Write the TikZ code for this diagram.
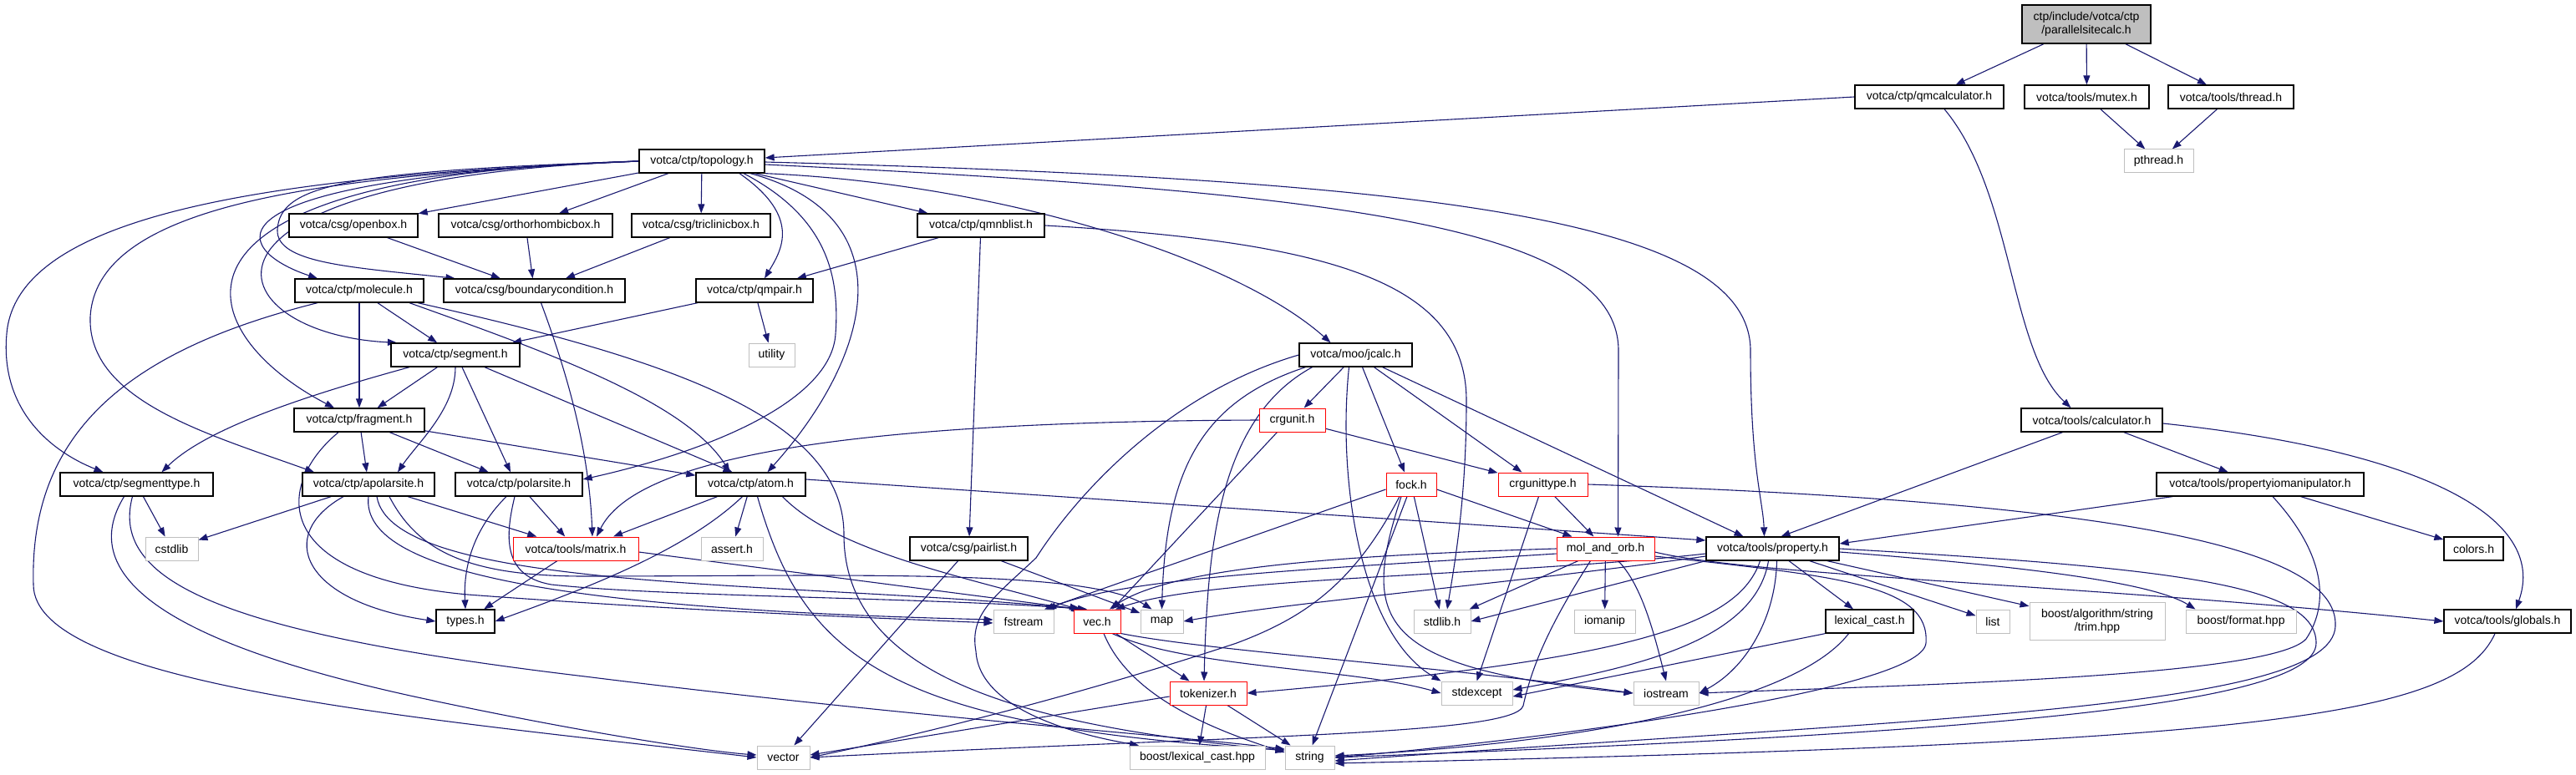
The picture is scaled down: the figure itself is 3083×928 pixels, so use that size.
\documentclass[tikz,border=0pt]{standalone}
\usepackage{fontspec}
\setmainfont{Liberation Sans}
\usetikzlibrary{arrows.meta}
\definecolor{Edge}{HTML}{191970}
\definecolor{Miss}{HTML}{FF0000}
\definecolor{Sys}{HTML}{BFBFBF}
\pgfdeclarelayer{bg}
\pgfsetlayers{bg,main}
\tikzset{
  hdr/.style={draw=black,line width=1.3pt,fill=white,minimum height=28pt,inner sep=0pt,font={\fontsize{14}{16}\selectfont}},
  sys/.style={hdr,draw=Sys,line width=1pt},
  miss/.style={hdr,draw=Miss,line width=1pt},
  root/.style={hdr,fill=Sys,minimum height=46pt,align=center},
  dep/.style={Edge,line width=1.1pt,-{Triangle[length=11pt,width=8pt]}},
}
\begin{document}
\begin{tikzpicture}[x=1pt,y=-1pt]
        \useasboundingbox (0,0) rectangle (3083,928);
        \node[root,minimum width=154pt] (psc) at (2497,29) {ctp/include/votca/ctp\\/parallelsitecalc.h};
        \node[hdr,minimum width=178pt] (qmcalc) at (2309,116) {votca/ctp/qmcalculator.h};
        \node[hdr,minimum width=149pt] (mutex) at (2497.5,116) {votca/tools/mutex.h};
        \node[hdr,minimum width=150pt] (thread) at (2670,116) {votca/tools/thread.h};
        \node[hdr,minimum width=150pt] (topo) at (840,193) {votca/ctp/topology.h};
        \node[sys,minimum width=83pt] (pthread) at (2583.5,193) {pthread.h};
        \node[hdr,minimum width=154pt] (openbox) at (423,270) {votca/csg/openbox.h};
        \node[hdr,minimum width=208pt] (ortho) at (629,270) {votca/csg/orthorhombicbox.h};
        \node[hdr,minimum width=166pt] (tricl) at (839,270) {votca/csg/triclinicbox.h};
        \node[hdr,minimum width=152pt] (qmnb) at (1174,270) {votca/ctp/qmnblist.h};
        \node[hdr,minimum width=154pt] (molec) at (430,348) {votca/ctp/molecule.h};
        \node[hdr,minimum width=217pt] (bcond) at (639.5,348) {votca/csg/boundarycondition.h};
        \node[hdr,minimum width=140pt] (qmpair) at (903,348) {votca/ctp/qmpair.h};
        \node[hdr,minimum width=154pt] (segm) at (545,425) {votca/ctp/segment.h};
        \node[sys,minimum width=55pt] (utility) at (923.5,425) {utility};
        \node[hdr,minimum width=135pt] (jcalc) at (1622.5,425) {votca/moo/jcalc.h};
        \node[hdr,minimum width=156pt] (frag) at (430,503) {votca/ctp/fragment.h};
        \node[miss,minimum width=79pt] (crgunit) at (1546.5,503) {crgunit.h};
        \node[hdr,minimum width=169pt] (calc) at (2503.5,503) {votca/tools/calculator.h};
        \node[hdr,minimum width=183pt] (segtype) at (163.5,580) {votca/ctp/segmenttype.h};
        \node[hdr,minimum width=158pt] (apolar) at (441,580) {votca/ctp/apolarsite.h};
        \node[hdr,minimum width=152pt] (polar) at (621,580) {votca/ctp/polarsite.h};
        \node[hdr,minimum width=131pt] (atom) at (898.5,580) {votca/ctp/atom.h};
        \node[miss,minimum width=60pt] (fock) at (1689,580) {fock.h};
        \node[miss,minimum width=107pt] (crgtype) at (1846.5,580) {crgunittype.h};
        \node[hdr,minimum width=248pt] (piom) at (2705,580) {votca/tools/propertyiomanipulator.h};
        \node[sys,minimum width=63pt] (cstdlib) at (205.5,657) {cstdlib};
        \node[miss,minimum width=150pt] (matrix) at (689,657) {votca/tools/matrix.h};
        \node[sys,minimum width=74pt] (assert) at (876,657) {assert.h};
        \node[hdr,minimum width=141pt] (pairlist) at (1159.5,657) {votca/csg/pairlist.h};
        \node[miss,minimum width=117pt] (molorb) at (1921.5,657) {mol\_and\_orb.h};
        \node[hdr,minimum width=159pt] (prop) at (2121.5,657) {votca/tools/property.h};
        \node[hdr,minimum width=71pt] (colors) at (2960.5,657) {colors.h};
        \node[hdr,minimum width=70pt] (types) at (557,744) {types.h};
        \node[sys,minimum width=72pt] (fstream) at (1225,744) {fstream};
        \node[miss,minimum width=56pt] (vec) at (1313,744) {vec.h};
        \node[sys,minimum width=51pt] (map) at (1390.5,744) {map};
        \node[sys,minimum width=68pt] (stdlib) at (1726,744) {stdlib.h};
        \node[sys,minimum width=73pt] (iomanip) at (1920.5,744) {iomanip};
        \node[hdr,minimum width=105pt] (lexcast) at (2237.5,744) {lexical\_cast.h};
        \node[sys,minimum width=40pt] (list) at (2385,744) {list};
        \node[sys,minimum width=162pt,minimum height=45pt,align=center] (trim) at (2510,744) {boost/algorithm/string\\/trim.hpp};
        \node[sys,minimum width=132pt] (format) at (2682,744) {boost/format.hpp};
        \node[hdr,minimum width=152pt] (globals) at (3001,744) {votca/tools/globals.h};
        \node[miss,minimum width=92pt] (tokenizer) at (1446,830) {tokenizer.h};
        \node[sys,minimum width=85pt] (stdexcept) at (1767.5,830) {stdexcept};
        \node[sys,minimum width=78pt] (iostream) at (1994,830) {iostream};
        \node[sys,minimum width=63pt] (vector) at (937.5,907) {vector};
        \node[sys,minimum width=162pt] (blexcast) at (1433,907) {boost/lexical\_cast.hpp};
        \node[sys,minimum width=59pt] (string) at (1567.5,907) {string};
        \begin{pgfonlayer}{bg}
        \draw[dep] (psc) -- (qmcalc);
        \draw[dep] (psc) -- (mutex);
        \draw[dep] (psc) -- (thread);
        \draw[dep] (mutex) -- (pthread);
        \draw[dep] (thread) -- (pthread);
        \draw[dep] (qmcalc.west) -- ([yshift=4pt]topo.east);
        \draw[dep] ([xshift=18pt]qmcalc.south) .. controls (2410,230) and (2405,420) .. ([xshift=-25pt]calc.north);
        \draw[dep] (topo) -- (openbox);
        \draw[dep] (topo) -- (ortho);
        \draw[dep] (topo) -- (tricl);
        \draw[dep] (topo) -- (qmnb);
        \draw[dep] (topo.west) .. controls (220,215) and (280,300) .. ([xshift=-50pt]molec.north);
        \draw[dep] (topo.west) .. controls (420,205) and (335,220) .. (332,275) .. controls (330,315) and (420,320) .. ([xshift=-95pt]bcond.north);
        \draw[dep] (topo.west) .. controls (180,215) and (260,400) .. ([xshift=-70pt]segm.north);
        \draw[dep] (topo.west) .. controls (150,210) and (230,400) .. ([xshift=-30pt]frag.north);
        \draw[dep] (topo.west) .. controls (350,210) and (20,250) .. (8,400) .. controls (0,490) and (60,540) .. ([xshift=-40pt]segtype.north);
        \draw[dep] (topo.west) .. controls (400,210) and (115,240) .. (108,380) .. controls (105,480) and (250,520) .. ([xshift=-65pt]apolar.north);
        \draw[dep] ([xshift=45pt]topo.south) .. controls (960,260) and (935,300) .. ([xshift=12pt]qmpair.north);
        \draw[dep] ([xshift=50pt]topo.south) .. controls (990,260) and (1005,330) .. (1000,400) .. controls (995,480) and (850,540) .. ([yshift=6pt]polar.east);
        \draw[dep] ([xshift=58pt]topo.south) .. controls (1090,260) and (1040,430) .. ([xshift=20pt]atom.north);
        \draw[dep] (topo.south east) .. controls (1200,220) and (1480,310) .. ([xshift=-30pt]jcalc.north);
        \draw[dep] ([yshift=-4pt]topo.east) .. controls (1600,230) and (1937,270) .. (1937,420) -- ([xshift=15pt]molorb.north);
        \draw[dep] ([yshift=-1pt]topo.east) .. controls (1700,215) and (2095,260) .. (2095,420) .. controls (2095,560) and (2110,600) .. ([xshift=-10pt]prop.north);
        \draw[dep] (openbox) -- (bcond);
        \draw[dep] (ortho) -- (bcond);
        \draw[dep] (tricl) -- (bcond);
        \draw[dep] ([xshift=8pt]bcond.south) .. controls (680,450) and (705,540) .. ([xshift=20pt]matrix.north);
        \draw[dep] (qmnb) -- (qmpair);
        \draw[dep] (qmnb) -- (pairlist);
        \draw[dep] (qmnb.east) .. controls (1600,290) and (1755,340) .. (1755,480) .. controls (1755,600) and (1740,680) .. ([xshift=6pt]stdlib.north);
        \draw[dep] (qmpair) -- (segm);
        \draw[dep] (qmpair) -- (utility);
        \draw[dep] (molec) -- (segm);
        \draw[dep] (molec) -- (frag);
        \draw[dep] ([xshift=60pt]molec.south) .. controls (650,420) and (820,480) .. ([xshift=-25pt]atom.north);
        \draw[dep] ([xshift=-50pt]molec.south) .. controls (150,420) and (35,520) .. (40,700) .. controls (40,820) and (500,860) .. (vector.west);
        \draw[dep] ([xshift=70pt]molec.south) .. controls (800,430) and (1010,500) .. (1010,640) .. controls (1010,820) and (1250,870) .. ([yshift=8pt]string.west);
        \draw[dep] (segm) -- (frag);
        \draw[dep] ([xshift=-55pt]segm.south) .. controls (380,470) and (250,510) .. ([xshift=30pt]segtype.north);
        \draw[dep] (segm.south) .. controls (545,490) and (500,530) .. ([xshift=35pt]apolar.north);
        \draw[dep] ([xshift=8pt]segm.south) -- ([xshift=-10pt]polar.north);
        \draw[dep] ([xshift=35pt]segm.south) -- ([xshift=-22pt]atom.north);
        \draw[dep] (frag) -- (apolar);
        \draw[dep] (frag) -- (polar);
        \draw[dep] (frag) -- (atom);
        \draw[dep] ([xshift=-25pt]frag.south) .. controls (330,580) and (320,690) .. (560,712) .. controls (800,730) and (1000,738) .. ([yshift=-2pt]fstream.west);
        \draw[dep] (segtype) -- (cstdlib);
        \draw[dep] ([xshift=-15pt]segtype.south) .. controls (90,690) and (200,770) .. (500,835) .. controls (700,878) and (850,900) .. ([yshift=3pt]vector.west);
        \draw[dep] ([xshift=-5pt]segtype.south) .. controls (130,700) and (280,760) .. (700,810) .. controls (1100,860) and (1400,880) .. ([yshift=10pt]string.west);
        \draw[dep] (apolar) -- (cstdlib);
        \draw[dep] ([xshift=-30pt]apolar.south) .. controls (330,640) and (360,720) .. (types.west);
        \draw[dep] (apolar) -- (matrix);
        \draw[dep] (apolar.south) .. controls (430,690) and (700,730) .. ([yshift=2pt]fstream.west);
        \draw[dep] ([xshift=10pt]apolar.south) .. controls (470,710) and (950,695) .. ([xshift=-18pt]vec.north);
        \draw[dep] ([xshift=25pt]apolar.south) .. controls (500,660) and (560,690) .. (700,690) .. controls (1000,690) and (1300,680) .. ([xshift=-12pt]map.north);
        \draw[dep] ([xshift=-15pt]polar.south) .. controls (560,640) and (555,690) .. (types.north);
        \draw[dep] (polar) -- (matrix);
        \draw[dep] ([xshift=-5pt]polar.south) .. controls (605,640) and (600,690) .. (660,700) .. controls (800,715) and (1100,715) .. ([xshift=-12pt]vec.north);
        \draw[dep] ([xshift=-40pt]atom.south) -- ([xshift=45pt]matrix.north);
        \draw[dep] ([xshift=-10pt]atom.south) .. controls (820,660) and (700,705) .. (types.east);
        \draw[dep] (atom) -- (assert);
        \draw[dep] ([xshift=38pt]atom.south) .. controls (1000,660) and (1150,690) .. ([xshift=-22pt]vec.north);
        \draw[dep] ([xshift=8pt]atom.south) .. controls (960,780) and (1050,870) .. ([yshift=9pt]string.west);
        \draw[dep] ([yshift=6pt]atom.east) -- ([yshift=10pt]prop.west);
        \draw[dep] (matrix) -- (types);
        \draw[dep] ([yshift=-4pt]matrix.east) -- ([xshift=-20pt]vec.north);
        \draw[dep] (pairlist) -- (vector);
        \draw[dep] (pairlist) -- (map);
        \draw[dep] (crgunit.west) .. controls (1000,505) and (760,550) .. ([xshift=25pt]matrix.north);
        \draw[dep] ([xshift=-18pt]crgunit.south) -- ([xshift=18pt]vec.north);
        \draw[dep] (crgunit) -- (crgtype);
        \draw[dep] (jcalc) -- (crgunit);
        \draw[dep] ([xshift=8pt]jcalc.south) -- ([xshift=-8pt]fock.north);
        \draw[dep] ([xshift=22pt]jcalc.south) -- ([xshift=-25pt]crgtype.north);
        \draw[dep] ([xshift=32pt]jcalc.south) -- ([xshift=-35pt]prop.north);
        \draw[dep] ([xshift=-8pt]jcalc.south) .. controls (1600,580) and (1630,760) .. (stdexcept.north west);
        \draw[dep] ([xshift=-60pt]jcalc.south) .. controls (1440,480) and (1395,560) .. (map.north);
        \draw[dep] ([xshift=-52pt]jcalc.south) .. controls (1460,500) and (1445,650) .. ([xshift=-5pt]tokenizer.north);
        \draw[dep] (jcalc.west) .. controls (1400,470) and (1290,590) .. (1240,668) .. controls (1190,715) and (1160,735) .. (1168,780) .. controls (1172,850) and (1290,880) .. ([xshift=-70pt]blexcast.north);
        \draw[dep] ([yshift=-6pt]fock.west) -- ([xshift=25pt]fstream.north);
        \draw[dep] ([xshift=-14pt]fock.south) .. controls (1620,700) and (1560,740) .. (1480,770) .. controls (1300,830) and (1100,880) .. (vector.east);
        \draw[dep] ([xshift=-12pt]fock.south) .. controls (1630,740) and (1640,800) .. (iostream.west);
        \draw[dep] ([xshift=-5pt]fock.south) -- ([xshift=3pt]string.north);
        \draw[dep] (fock) -- (stdlib);
        \draw[dep] ([yshift=-6pt]fock.east) -- ([xshift=-40pt]molorb.north);
        \draw[dep] (crgtype) -- (molorb);
        \draw[dep] ([xshift=-5pt]crgtype.south) -- (stdexcept.north);
        \draw[dep] (crgtype.east) .. controls (2500,600) and (2800,650) .. (2795,750) .. controls (2790,850) and (2300,860) .. ([yshift=-4pt]string.east);
        \draw[dep] (molorb) -- (stdlib);
        \draw[dep] (molorb) -- (iomanip);
        \draw[dep] ([xshift=15pt]molorb.south) .. controls (1965,700) and (1980,760) .. (iostream.north);
        \draw[dep] (molorb.west) .. controls (1600,665) and (1400,680) .. ([xshift=15pt]vec.north);
        \draw[dep] ([yshift=-6pt]molorb.west) .. controls (1600,680) and (1350,690) .. ([xshift=28pt]fstream.north);
        \draw[dep] ([xshift=-18pt]molorb.south) .. controls (1860,740) and (1835,790) .. (1823,845) .. controls (1812,880) and (1500,880) .. (vector.east);
        \draw[dep] ([yshift=-9pt]molorb.east) .. controls (2200,690) and (2310,700) .. (2305,770) .. controls (2300,830) and (1800,890) .. (string.east);
        \draw[dep] ([yshift=-4pt]molorb.east) .. controls (2100,690) and (2500,700) .. (globals.west);
        \draw[dep] (prop.south west) -- (stdlib.east);
        \draw[dep] ([yshift=-6pt]prop.west) .. controls (1800,690) and (1450,690) .. ([xshift=22pt]vec.north);
        \draw[dep] ([yshift=-9pt]prop.west) .. controls (1800,700) and (1550,720) .. (map.east);
        \draw[dep] ([xshift=-15pt]prop.south) .. controls (2080,750) and (1950,790) .. (tokenizer.east);
        \draw[dep] ([xshift=-5pt]prop.south) .. controls (2100,770) and (1950,800) .. ([yshift=4pt]stdexcept.east);
        \draw[dep] ([xshift=5pt]prop.south) .. controls (2125,740) and (2090,800) .. (iostream.east);
        \draw[dep] (prop) -- (lexcast);
        \draw[dep] (prop) -- (list);
        \draw[dep] (prop) -- (trim);
        \draw[dep] ([yshift=-4pt]prop.east) .. controls (2450,680) and (2580,700) .. ([xshift=12pt]format.north west);
        \draw[dep] (prop.east) .. controls (2600,680) and (2772,700) .. (2772,770) .. controls (2772,850) and (2300,880) .. (string.east);
        \draw[dep] ([xshift=-105pt]piom.south) -- ([yshift=6pt]prop.east);
        \draw[dep] (piom) -- (colors);
        \draw[dep] ([xshift=15pt]piom.south) .. controls (2780,660) and (2790,720) .. (2760,765) .. controls (2720,810) and (2300,820) .. (iostream.east);
        \draw[dep] ([xshift=-35pt]calc.south) -- ([xshift=10pt]prop.north);
        \draw[dep] (calc) -- (piom);
        \draw[dep] ([yshift=-4pt]calc.east) .. controls (2900,540) and (3050,620) .. ([xshift=10pt]globals.north);
        \draw[dep] (lexcast.south west) -- ([yshift=-4pt]stdexcept.east);
        \draw[dep] ([xshift=-25pt]lexcast.south) .. controls (2150,840) and (1900,890) .. ([yshift=2pt]string.east);
        \draw[dep] ([xshift=-15pt]globals.south) .. controls (2940,860) and (2700,890) .. ([yshift=-7pt]string.east);
        \draw[dep] (vec) -- (tokenizer);
        \draw[dep] ([xshift=8pt]vec.south) .. controls (1350,830) and (1440,870) .. ([yshift=6pt]string.west);
        \draw[dep] ([xshift=18pt]vec.south) .. controls (1420,800) and (1620,800) .. (stdexcept.west);
        \draw[dep] (vec.south east) .. controls (1450,780) and (1700,795) .. (iostream.west);
        \draw[dep] ([yshift=-4pt]tokenizer.west) -- ([yshift=3pt]vector.east);
        \draw[dep] (tokenizer) -- (blexcast);
        \draw[dep] (tokenizer) -- (string);
        \end{pgfonlayer}
      \end{tikzpicture}
\end{document}
